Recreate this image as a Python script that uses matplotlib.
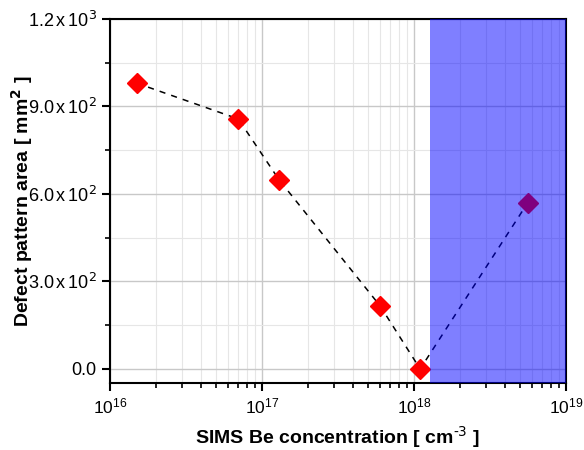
import numpy as np
import matplotlib
matplotlib.use("Agg")
import matplotlib.pyplot as plt
from matplotlib.ticker import FixedLocator, LogLocator, NullFormatter

plt.rcParams['font.family'] = ['Liberation Sans', 'DejaVu Sans']

# data
conc = [1.5e16, 7.0e16, 1.3e17, 6.0e17, 1.1e18, 5.6e18]
area = [980, 857, 648, 216, 0, 569]
span_start = 1.27e18
span_end = 1e19
yticks = [0, 300, 600, 900, 1200]
ylabels = ['0.0', r'3.0$\,$x$\,$10$^{2}$', r'6.0$\,$x$\,$10$^{2}$',
           r'9.0$\,$x$\,$10$^{2}$', r'1.2$\,$x$\,$10$^{3}$']

fig = plt.figure(figsize=(5.84, 4.5), dpi=100)
ax = fig.add_axes([0.188, 0.149, 0.781, 0.809])

ax.plot(conc, area, linestyle=(0, (4, 4)), color='black', linewidth=1.1,
        marker='D', markersize=10, markerfacecolor='red', markeredgecolor='red', zorder=3)
ax.axvspan(span_start, span_end, color='blue', alpha=0.5, linewidth=0, zorder=4)

ax.set_xscale('log')
ax.set_xlim(1e16, 1e19)
ax.set_ylim(-48, 1200)
ax.xaxis.set_major_locator(LogLocator(base=10, numticks=10))
ax.xaxis.set_minor_locator(LogLocator(base=10, subs=np.arange(2, 10), numticks=50))
ax.xaxis.set_minor_formatter(NullFormatter())
ax.yaxis.set_major_locator(FixedLocator(yticks))
ax.set_yticklabels(ylabels)
ax.yaxis.set_minor_locator(FixedLocator([150, 450, 750, 1050]))

ax.grid(which='major', color='#c8c8c8', linewidth=1.0, zorder=0)
ax.grid(which='minor', color='#e6e6e6', linewidth=0.8, zorder=0)
ax.set_axisbelow(True)

for s in ax.spines.values():
    s.set_linewidth(1.5)
ax.tick_params(which='major', direction='out', length=6, width=1.5, labelsize=12.5)
ax.tick_params(axis='y', which='major', labelsize=13)
ax.tick_params(which='minor', direction='out', length=3.5, width=1.2)

ax.set_xlabel(r'SIMS Be concentration [ cm$^{\text{-3}}$ ]', fontsize=14, fontweight='bold')
ax.set_ylabel(r'Defect pattern area [ mm$^{\mathbf{2}}$ ]', fontsize=14, fontweight='bold')
ax.xaxis.set_label_coords(0.5, -0.112)
ax.yaxis.set_label_coords(-0.165, 0.5)

fig.savefig('out.png')
plt.close(fig)
